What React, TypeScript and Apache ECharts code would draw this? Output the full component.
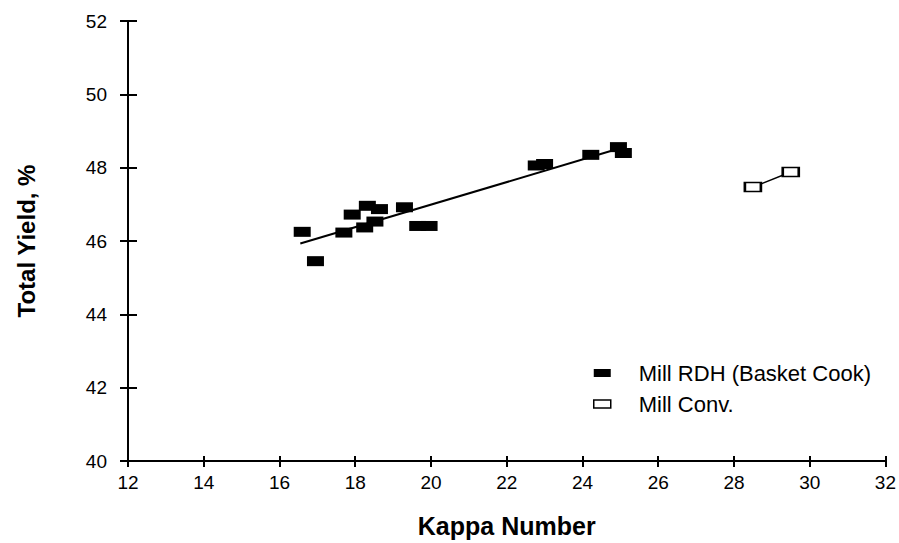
import React, { useEffect, useRef } from "react";
import * as echarts from "echarts";

const rdhKappa = [16.6, 16.95, 17.7, 17.92, 18.32, 18.64, 18.25, 18.52, 19.3, 19.65, 19.95, 22.78, 23.0, 24.22, 24.95, 25.08];
const rdhYield = [46.25, 45.45, 46.23, 46.72, 46.96, 46.87, 46.37, 46.53, 46.92, 46.41, 46.41, 48.06, 48.1, 48.35, 48.56, 48.4];
const trendKappa = [16.55, 24.9];
const trendYield = [45.93, 48.5];
const convKappa = [28.5, 29.5];
const convYield = [47.47, 47.88];
const seriesNames = ["Mill RDH (Basket Cook)", "Mill Conv."];

const FONT = "Liberation Sans, Arial, sans-serif";

export default function App() {
  const ref = useRef<HTMLDivElement>(null);
  useEffect(() => {
    if (!ref.current) return;
    const chart = echarts.init(ref.current, undefined, { renderer: "svg" });
    const zip = (a: number[], b: number[]) => a.map((v, i) => [v, b[i]]);
    const axisCommon = {
      type: "value" as const,
      axisLine: { show: true, lineStyle: { color: "#000", width: 2 } },
      splitLine: { show: false },
    };
    chart.setOption({
      animation: false,
      backgroundColor: "#fff",
      textStyle: { fontFamily: FONT },
      grid: { left: 128, right: 12, top: 21, bottom: 79 },
      xAxis: [
        {
          ...axisCommon,
          min: 12,
          max: 32,
          interval: 2,
          name: "Kappa Number",
          nameLocation: "middle",
          nameGap: 52,
          nameTextStyle: { fontFamily: FONT, fontSize: 25, fontWeight: "bold", color: "#000" },
          axisTick: { show: true, length: 6, lineStyle: { color: "#000", width: 2 } },
          axisLabel: { fontFamily: FONT, fontSize: 19, color: "#000", margin: 12 },
        },
        {
          ...axisCommon,
          min: 12,
          max: 32,
          interval: 2,
          position: "bottom",
          axisLine: { show: false },
          axisTick: { show: true, inside: true, length: 5, lineStyle: { color: "#000", width: 2 } },
          axisLabel: { show: false },
        },
      ],
      yAxis: [
        {
          ...axisCommon,
          min: 40,
          max: 52,
          interval: 2,
          name: "Total Yield, %",
          nameLocation: "middle",
          nameGap: 90,
          nameTextStyle: { fontFamily: FONT, fontSize: 24, fontWeight: "bold", color: "#000" },
          axisTick: { show: true, length: 8, lineStyle: { color: "#000", width: 2 } },
          axisLabel: { fontFamily: FONT, fontSize: 19, color: "#000", margin: 21 },
        },
        {
          ...axisCommon,
          min: 40,
          max: 52,
          interval: 2,
          position: "left",
          axisLine: { show: false },
          axisTick: { show: true, inside: true, length: 9, lineStyle: { color: "#000", width: 2 } },
          axisLabel: { show: false },
        },
      ],
      legend: {
        orient: "vertical",
        left: 588,
        top: 357,
        itemWidth: 17,
        itemHeight: 8,
        itemGap: 9,
        textStyle: { fontFamily: FONT, fontSize: 22, color: "#000", padding: [0, 0, 0, 23] },
        data: [
          { name: seriesNames[0], icon: "rect", itemStyle: { color: "#000" } },
          {
            name: seriesNames[1],
            icon: "rect",
            itemStyle: { color: "#fff", borderColor: "#000", borderWidth: 1.5 },
          },
        ],
      },
      series: [
        {
          name: seriesNames[0],
          type: "scatter",
          symbol: "rect",
          symbolSize: [17, 10],
          itemStyle: { color: "#000", opacity: 1 },
          data: zip(rdhKappa, rdhYield),
          z: 3,
        },
        {
          name: "trend",
          type: "line",
          showSymbol: false,
          symbol: "none",
          lineStyle: { color: "#000", width: 2 },
          data: zip(trendKappa, trendYield),
          z: 2,
        },
        {
          name: seriesNames[1],
          type: "line",
          symbol: "rect",
          symbolSize: [16, 9],
          lineStyle: { color: "#000", width: 1.5 },
          itemStyle: { color: "#fff", borderColor: "#000", borderWidth: 2 },
          data: zip(convKappa, convYield),
          z: 3,
        },
      ],
    });
    return () => chart.dispose();
  }, []);
  return <div ref={ref} style={{ width: 899, height: 543, position: "absolute", left: 0, top: 0 }} />;
}
